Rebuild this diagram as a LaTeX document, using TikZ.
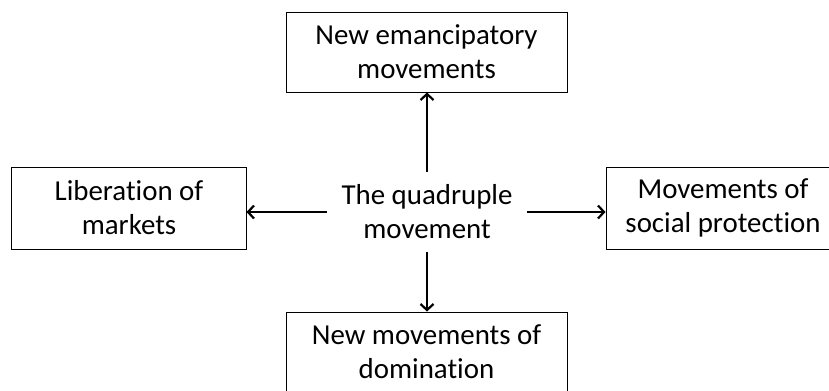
\documentclass[tikz,border=0pt]{standalone}
\usepackage{fontspec}
\setmainfont{Carlito}[Ligatures=NoCommon]
\usetikzlibrary{arrows.meta}
\begin{document}
\begin{tikzpicture}[x=1bp,y=-1bp,
  txt/.style={align=center, font=\fontsize{29}{34}\selectfont},
  box/.style={txt, draw, line width=1bp, inner sep=0pt},
  arr/.style={line width=2.2bp, -{Straight Barb[length=6bp,width=13bp]}}]
\useasboundingbox (0,0) rectangle (829,390);
\node[box, minimum width=281bp, minimum height=80bp] (top) at (426.5,52) {New emancipatory\\movements};
\node[box, minimum width=281bp, minimum height=80bp] (bot) at (426.5,352) {New movements of\\domination};
\node[box, minimum width=234bp, minimum height=82bp] (lft) at (129,208) {Liberation of\\markets};
\node[box, minimum width=234bp, minimum height=82bp] (rgt) at (723,208) {Movements of\\social protection};
\node[txt, inner sep=0pt, outer xsep=15bp, outer ysep=13bp] (c) at (427,212) {The quadruple\\movement};
\draw[arr] (c.north) -- (c.north |- top.south);
\draw[arr] (c.south) -- (c.south |- bot.north);
\draw[arr] (c.west) -- (c.west -| lft.east);
\draw[arr] (c.east) -- (c.east -| rgt.west);
\end{tikzpicture}
\end{document}
